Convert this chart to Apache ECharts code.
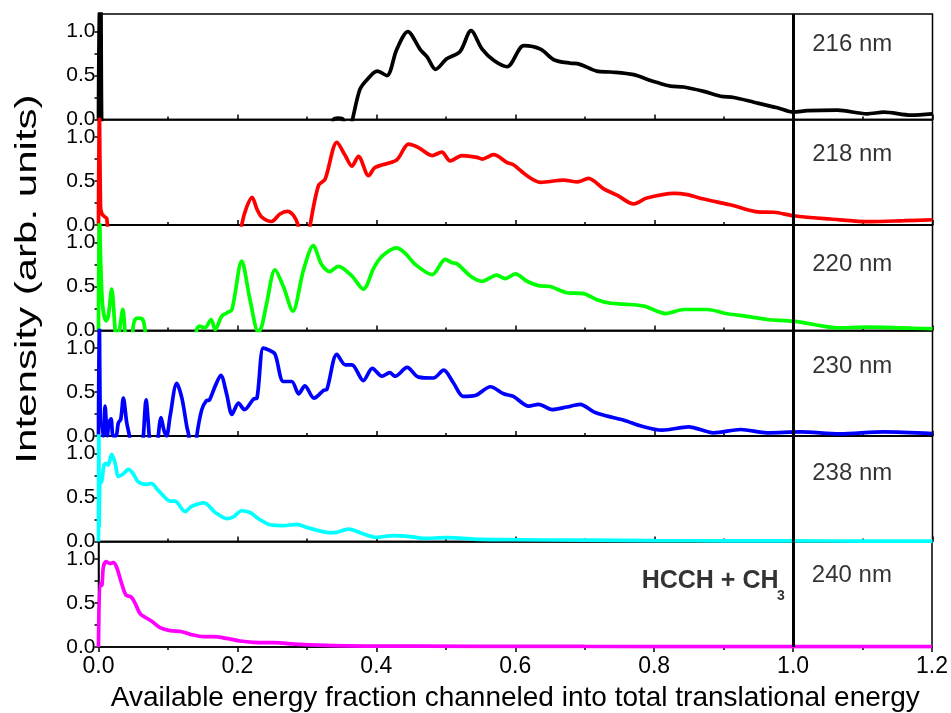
<!DOCTYPE html>
<html><head><meta charset="utf-8">
<script src="https://cdn.jsdelivr.net/npm/echarts@6/dist/echarts.min.js"></script>
<style>html,body{margin:0;padding:0;background:#fff}#c{width:951px;height:713px}</style>
</head><body><div id="c"></div>
<script>
// ---------- data ----------
const panelNames = ['216 nm', '218 nm', '220 nm', '230 nm', '238 nm', '240 nm'];
const panelColors = ['#000000', '#ff0000', '#00ff00', '#0000ff', '#00ffff', '#ff00ff'];
const panelLabelY = [0.85, 0.80, 0.75, 0.79, 0.77, 0.82];
const xTickValues = [0, 0.2, 0.4, 0.6, 0.8, 1.0, 1.2];
const yLabelValues = [0, 0.5, 1.0];
const yTickValues = [0, 0.25, 0.5, 0.75, 1.0];
const threshold = 1.0;

const s216 = [[0,0],[0.0015,1.5],[0.003,1.5],[0.0045,0],[0.006,-0.3],[0.33,-0.3],[0.338,0],[0.345,0.015],[0.352,0],[0.357,-0.15],
 [0.362,-0.1],[0.366,0.02],[0.376,0.34],[0.386,0.45],[0.401,0.55],[0.415,0.50],[0.429,0.795],[0.445,1.0],[0.463,0.795],[0.473,0.71],
 [0.485,0.57],[0.501,0.69],[0.52,0.77],[0.536,1.01],[0.552,0.80],[0.569,0.67],[0.588,0.60],[0.612,0.84],[0.636,0.80],[0.655,0.68],
 [0.679,0.64],[0.689,0.636],[0.717,0.55],[0.737,0.54],[0.770,0.51],[0.792,0.45],[0.804,0.42],[0.823,0.38],[0.842,0.37],[0.871,0.32],
 [0.895,0.265],[0.914,0.25],[0.943,0.197],[0.977,0.133],[1.0,0.083],[1.02,0.10],[1.063,0.106],[1.106,0.065],[1.13,0.083],[1.169,0.049],[1.2,0.065]];

const s218 = [[0,0],[0.001,1.5],[0.003,0.2],[0.005,0.125],[0.008,0.1],[0.012,0.07],[0.016,-0.3],[0.2,-0.3],[0.206,0],[0.213,0.2],
 [0.221,0.315],[0.228,0.18],[0.235,0.09],[0.249,0.04],[0.261,0.125],[0.272,0.155],[0.281,0.105],[0.287,0],[0.292,-0.3],[0.3,-0.3],
 [0.3046,0],[0.3166,0.45],[0.326,0.52],[0.343,0.94],[0.355,0.79],[0.3646,0.67],[0.374,0.78],[0.3886,0.56],[0.398,0.655],[0.429,0.74],
 [0.446,0.92],[0.4605,0.88],[0.48,0.79],[0.494,0.83],[0.506,0.73],[0.523,0.79],[0.5446,0.77],[0.552,0.75],[0.5686,0.80],[0.588,0.71],
 [0.597,0.685],[0.6166,0.56],[0.636,0.485],[0.669,0.51],[0.689,0.49],[0.705,0.53],[0.727,0.41],[0.746,0.34],[0.770,0.24],[0.789,0.307],
 [0.828,0.36],[0.847,0.345],[0.871,0.295],[0.909,0.23],[0.948,0.15],[0.972,0.145],[1.0,0.105],[1.053,0.068],[1.111,0.038],[1.159,0.049],[1.2,0.06]];

const s220 = [[0,0],[0.001,1.5],[0.003,0.83],[0.006,0.28],[0.011,0.11],[0.014,0.16],[0.019,0.47],[0.024,0],[0.026,-0.1],[0.030,0],
 [0.035,0.24],[0.038,0],[0.041,-0.3],[0.048,-0.1],[0.05,0.05],[0.0526,0.125],[0.057,0.14],[0.0636,0.125],[0.067,0],[0.07,-0.3],
 [0.138,-0.3],[0.141,0],[0.145,0.05],[0.153,0.03],[0.162,0.125],[0.168,0.01],[0.177,0.16],[0.1846,0.20],[0.192,0.24],[0.206,0.79],
 [0.218,0.35],[0.230,-0.02],[0.235,0.05],[0.242,0.31],[0.254,0.69],[0.266,0.50],[0.2796,0.22],[0.295,0.69],[0.309,0.965],[0.321,0.75],
 [0.333,0.67],[0.345,0.73],[0.3646,0.62],[0.381,0.47],[0.396,0.71],[0.408,0.845],[0.429,0.94],[0.441,0.88],[0.456,0.75],[0.48,0.636],
 [0.499,0.81],[0.509,0.77],[0.516,0.76],[0.535,0.62],[0.552,0.56],[0.573,0.63],[0.585,0.59],[0.5998,0.645],[0.6166,0.56],[0.633,0.51],
 [0.650,0.50],[0.674,0.43],[0.698,0.42],[0.717,0.35],[0.737,0.31],[0.756,0.30],[0.785,0.277],[0.816,0.193],[0.842,0.239],[0.876,0.239],
 [0.905,0.19],[0.938,0.155],[0.962,0.125],[1.0,0.106],[1.029,0.068],[1.063,0.03],[1.106,0.038],[1.154,0.03],[1.2,0.02]];

const s230 = [[0,0],[0.001,1.5],[0.003,0.13],[0.0046,0.13],[0.007,0],[0.0094,0.34],[0.0127,0],[0.015,0.15],[0.018,0.195],[0.021,0],
 [0.025,0],[0.0286,0.15],[0.032,0.19],[0.0358,0.43],[0.0406,0.15],[0.0445,0],[0.048,-0.3],[0.061,-0.3],[0.0646,0],[0.0684,0.41],
 [0.073,0],[0.076,-0.3],[0.083,-0.3],[0.086,0],[0.090,0.21],[0.094,0.07],[0.098,0],[0.103,0.225],[0.1126,0.60],[0.12,0.43],
 [0.127,0.11],[0.130,0],[0.133,-0.3],[0.138,-0.3],[0.1414,0],[0.1486,0.30],[0.155,0.40],[0.1596,0.41],[0.168,0.57],[0.176,0.69],
 [0.1846,0.47],[0.192,0.245],[0.2014,0.375],[0.21,0.30],[0.223,0.42],[0.228,0.43],[0.237,1.0],[0.2446,0.98],[0.254,0.93],[0.266,0.62],
 [0.278,0.62],[0.288,0.48],[0.297,0.57],[0.310,0.43],[0.324,0.52],[0.3286,0.53],[0.343,0.93],[0.355,0.81],[0.3646,0.81],[0.381,0.63],
 [0.394,0.77],[0.408,0.68],[0.419,0.72],[0.427,0.68],[0.444,0.78],[0.4605,0.67],[0.482,0.66],[0.4966,0.75],[0.511,0.60],[0.525,0.45],
 [0.542,0.46],[0.564,0.56],[0.583,0.48],[0.597,0.45],[0.619,0.34],[0.633,0.36],[0.6527,0.30],[0.674,0.33],[0.693,0.36],[0.7126,0.275],
 [0.732,0.226],[0.756,0.18],[0.782,0.11],[0.811,0.066],[0.849,0.104],[0.885,0.036],[0.924,0.074],[0.962,0.036],[1.01,0.047],[1.066,0.025],
 [1.13,0.047],[1.2,0.028]];

const s238 = [[0,0],[0.0005,1.5],[0.001,0.17],[0.002,0.66],[0.0046,0.68],[0.008,0.87],[0.011,0.89],[0.014,0.87],[0.019,0.99],[0.024,0.89],
 [0.0286,0.74],[0.0358,0.77],[0.043,0.82],[0.050,0.77],[0.057,0.68],[0.069,0.65],[0.0766,0.66],[0.0838,0.60],[0.0933,0.52],[0.103,0.46],
 [0.110,0.46],[0.1246,0.34],[0.134,0.40],[0.152,0.44],[0.168,0.33],[0.1846,0.26],[0.194,0.28],[0.206,0.35],[0.218,0.33],[0.230,0.26],
 [0.247,0.19],[0.266,0.18],[0.2854,0.195],[0.30,0.16],[0.324,0.11],[0.338,0.10],[0.36,0.14],[0.3766,0.10],[0.40,0.047],[0.4245,0.066],
 [0.4486,0.055],[0.468,0.036],[0.501,0.044],[0.549,0.025],[0.6,0.02],[0.7,0.015],[0.8,0.01],[0.9,0.008],[1.0,0.007],[1.1,0.005],[1.2,0.005]];

const s240 = [[0,0],[0.002,0.72],[0.0046,0.70],[0.007,0.91],[0.011,0.97],[0.0166,0.95],[0.0213,0.96],[0.026,0.91],[0.0334,0.72],[0.0396,0.59],
 [0.0468,0.57],[0.0526,0.50],[0.0598,0.38],[0.069,0.33],[0.079,0.28],[0.0886,0.22],[0.103,0.186],[0.12,0.174],[0.132,0.144],[0.151,0.117],
 [0.165,0.117],[0.1846,0.098],[0.204,0.068],[0.223,0.053],[0.252,0.049],[0.29,0.03],[0.338,0.015],[0.386,0.011],[0.549,0.008],[0.7,0.006],
 [0.9,0.005],[1.2,0.005]];

const seriesData = [s216, s218, s220, s230, s238, s240];

const annotationMain = {text: 'HCCH + CH', x: 0.782, y: 0.75};
const annotationSub = {text: '3', x: 0.977, y: 0.58};

const xTitle = 'Available energy fraction channeled into total translational energy';
const yTitle = 'Intensity (arb. units)';

// ---------- chart ----------
const FONT = '"Liberation Sans", Arial, Helvetica, sans-serif';
const chart = echarts.init(document.getElementById('c'), null, {renderer: 'canvas'});
const N = 6, TOP0 = 14, PH = 105.5, LEFT = 98.5, RIGHT = 18.5;
const grids = [], xAxes = [], yAxes = [], series = [];
for (let i = 0; i < N; i++) {
  const last = i === N - 1;
  grids.push({left: LEFT, right: RIGHT, top: TOP0 + i * PH, height: PH, show: true,
    borderColor: '#000', borderWidth: 1.5, backgroundColor: 'transparent', containLabel: false});
  xAxes.push({
    type: 'value', gridIndex: i, min: 0, max: 1.2, interval: 0.2,
    axisLine: {show: true, onZero: false, lineStyle: {color: '#000', width: 1.5}},
    axisTick: {show: true, inside: !last, length: 5, customValues: xTickValues, lineStyle: {color: '#000', width: 1.5}},
    minorTick: {show: true, splitNumber: 2, length: 3, lineStyle: {color: '#000', width: 1.5}},
    axisLabel: {show: last, customValues: xTickValues, fontSize: 23, color: '#000', fontFamily: FONT, margin: 8,
      formatter: v => v.toFixed(1)},
    splitLine: {show: false}, minorSplitLine: {show: false},
    name: last ? xTitle : '', nameLocation: 'middle', nameGap: 37,
    nameTextStyle: {fontSize: 28, color: '#000', fontFamily: FONT}
  });
  yAxes.push({
    type: 'value', gridIndex: i, min: 0, max: 1.2, interval: 0.5,
    axisLine: {show: true, lineStyle: {color: '#000', width: 1.5}},
    axisTick: {show: true, inside: false, length: 4, customValues: yTickValues, lineStyle: {color: '#000', width: 1.5}},
    axisLabel: {show: true, customValues: yLabelValues, fontSize: 21, color: '#000', fontFamily: FONT, margin: 3,
      formatter: v => v.toFixed(1)},
    splitLine: {show: false}
  });
  series.push({
    type: 'line', xAxisIndex: i, yAxisIndex: i, data: seriesData[i], showSymbol: false, symbol: 'none',
    smooth: 0.3, clip: true, z: 3,
    lineStyle: {color: panelColors[i], width: 3.7},
    markLine: {silent: true, symbol: ['none', 'none'], animation: false, label: {show: false},
      lineStyle: {color: '#000', width: 3, type: 'solid'}, data: [{xAxis: threshold}]}
  });
  series.push({
    type: 'scatter', xAxisIndex: i, yAxisIndex: i, symbolSize: 0, silent: true, z: 5,
    data: [{name: panelNames[i], value: [1.027, panelLabelY[i]]}],
    label: {show: true, position: 'right', distance: 0, formatter: p => p.name,
      fontSize: 24, color: '#000', fontFamily: FONT}
  });
}
series.push({
  type: 'scatter', xAxisIndex: 5, yAxisIndex: 5, symbolSize: 0, silent: true, z: 5,
  data: [{name: annotationMain.text, value: [annotationMain.x, annotationMain.y]}],
  label: {show: true, position: 'right', distance: 0, formatter: p => p.name,
    fontSize: 25, fontWeight: 'bold', color: '#000', fontFamily: FONT}
});
series.push({
  type: 'scatter', xAxisIndex: 5, yAxisIndex: 5, symbolSize: 0, silent: true, z: 5,
  data: [{name: annotationSub.text, value: [annotationSub.x, annotationSub.y]}],
  label: {show: true, position: 'right', distance: 0, formatter: p => p.name,
    fontSize: 14, fontWeight: 'bold', color: '#000', fontFamily: FONT}
});

chart.setOption({
  animation: false,
  backgroundColor: '#fff',
  grid: grids, xAxis: xAxes, yAxis: yAxes, series: series,
  graphic: [{
    type: 'text', x: 28, y: 279, rotation: Math.PI / 2, scaleX: 1.45, silent: true,
    style: {text: yTitle, fontSize: 29, fontFamily: FONT, fill: '#000', align: 'center', verticalAlign: 'middle',
      textAlign: 'center', textVerticalAlign: 'middle'}
  }]
});
</script>
</body></html>
